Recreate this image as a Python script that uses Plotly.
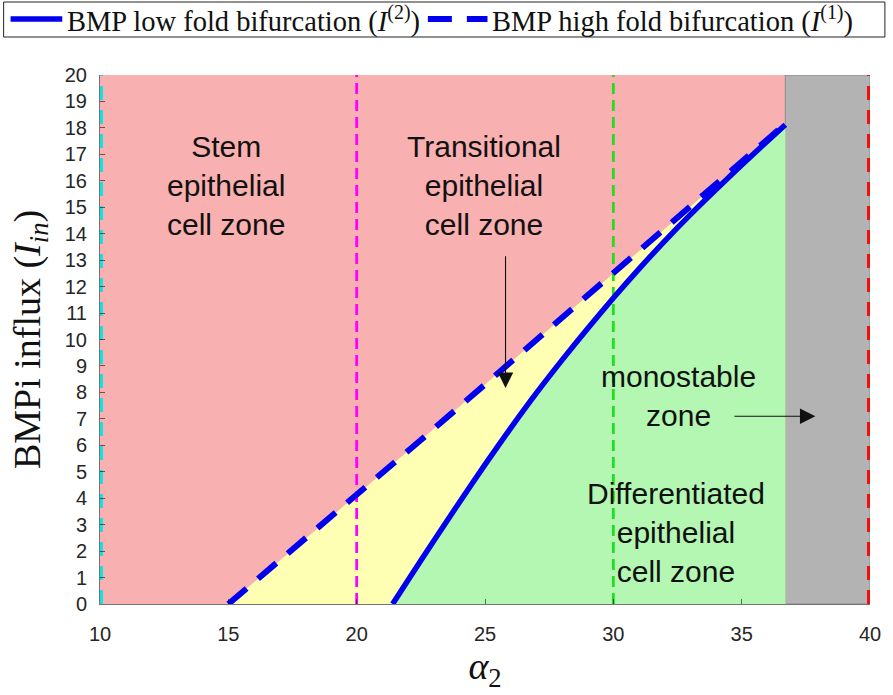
import plotly.graph_objects as go

# BMP high fold bifurcation curve I^(1) (dashed)
alpha_high = [15, 17.5, 20, 22.5, 25, 27.5, 30, 32.5, 35, 36.7]
I_high = [0, 2.05, 4.12, 6.2, 8.3, 10.4, 12.5, 14.6, 16.7, 18.15]

# BMP low fold bifurcation curve I^(2) (solid)
alpha_low = [21.4, 22, 23, 24, 25, 26, 27, 28, 29, 30, 31, 32, 33, 34, 35, 36, 36.7]
I_low = [0, 0.9, 2.38, 3.84, 5.27, 6.65, 7.97, 9.22, 10.42, 11.57, 12.67, 13.72,
         14.72, 15.67, 16.6, 17.5, 18.12]

# reference alpha_2 values marked by vertical dashed lines
marker_alpha = [10, 20, 30, 40]
marker_colors = ["#18e0e0", "#ff00ff", "#22dd22", "#ee1111"]

legend_labels = ["BMP low fold bifurcation (<i>I</i><sup>(2)</sup>)",
                 "BMP high fold bifurcation (<i>I</i><sup>(1)</sup>)"]

x_range = [10, 40]
y_range = [0, 20]
x_ticks = [10, 15, 20, 25, 30, 35, 40]
y_ticks = list(range(0, 21))

PINK = "#f9b0b0"
YELLOW = "#ffffb3"
GREEN = "#b3f7b3"
GRAY = "#b3b3b3"
BLUE = "#0000ee"
SANS = "Liberation Sans, Arial, sans-serif"
SERIF = "Liberation Serif, Times New Roman, serif"

W, H = 893, 695
M = dict(l=100, r=18, t=75, b=91)
PW = W - M["l"] - M["r"]
PH = H - M["t"] - M["b"]


def px_x(p):
    """pixel column -> paper x"""
    return (p - M["l"]) / PW


def px_y(p):
    """pixel row (from top) -> paper y"""
    return (H - M["b"] - p) / PH


fold_end = alpha_low[-1]

fig = go.Figure()

# bistable (transitional) region between the two fold curves
fig.add_trace(go.Scatter(
    x=alpha_high + [alpha_high[-1]], y=I_high + [0],
    fill="toself", fillcolor=YELLOW, mode="none",
    showlegend=False, hoverinfo="skip"))
# differentiated region below the low fold curve
fig.add_trace(go.Scatter(
    x=alpha_low + [alpha_low[-1]], y=I_low + [0],
    fill="toself", fillcolor=GREEN, mode="none",
    showlegend=False, hoverinfo="skip"))

# vertical reference lines (the ones on the frame edges are half clipped)
for a, c in zip(marker_alpha, marker_colors):
    edge = a in (x_range[0], x_range[1])
    fig.add_trace(go.Scatter(
        x=[a, a], y=y_range, mode="lines",
        line=dict(color=c, width=6 if edge else 2.8,
                  dash="14px,10px" if edge else "11px,6px"),
        showlegend=False, hoverinfo="skip"))

solid_style = dict(color=BLUE, width=5.5)
dash_style = dict(color=BLUE, width=6, dash="24px,15px")

fig.add_trace(go.Scatter(x=alpha_low, y=I_low, mode="lines",
                         line=dict(solid_style, shape="spline", smoothing=0.6),
                         name=legend_labels[0], showlegend=False))
fig.add_trace(go.Scatter(x=alpha_high, y=I_high, mode="lines", line=dash_style,
                         name=legend_labels[1], showlegend=False))

shapes = [
    # stem region background (above the high fold curve)
    dict(type="rect", xref="x", yref="y", x0=x_range[0], x1=fold_end,
         y0=y_range[0], y1=y_range[1], fillcolor=PINK, line=dict(width=0),
         layer="below"),
    # monostable region
    dict(type="rect", xref="x", yref="y", x0=fold_end, x1=x_range[1],
         y0=y_range[0], y1=y_range[1], fillcolor=GRAY,
         line=dict(width=1, color="#8a8a8a"), layer="below"),
    # legend frame and line samples
    dict(type="rect", xref="paper", yref="paper",
         x0=px_x(3), x1=px_x(890), y0=px_y(37), y1=px_y(2),
         fillcolor="white", line=dict(color="#222222", width=1)),
    dict(type="line", xref="paper", yref="paper",
         x0=px_x(10), x1=px_x(62), y0=px_y(19), y1=px_y(19), line=solid_style),
    dict(type="line", xref="paper", yref="paper",
         x0=px_x(430), x1=px_x(490), y0=px_y(19), y1=px_y(19), line=dash_style),
]

txt = dict(family=SANS, size=30, color="#111111")
annotations = [
    dict(x=14.92, y=15.84, text="Stem<br>epithelial<br>cell zone"),
    dict(x=24.97, y=15.84, text="Transitional<br>epithelial<br>cell zone"),
    dict(x=32.55, y=7.86, text="monostable<br>zone"),
    dict(x=32.45, y=2.72, text="Differentiated<br>epithelial<br>cell zone"),
]
for a in annotations:
    a.update(xref="x", yref="y", showarrow=False, font=txt, align="center")

# arrows pointing into the transitional and monostable zones
annotations += [
    dict(x=25.8, y=8.17, ax=25.8, ay=13.2, xref="x", yref="y", axref="x", ayref="y",
         text="", showarrow=True, arrowhead=2, arrowsize=2.8, arrowwidth=1.1,
         arrowcolor="#111111"),
    dict(x=37.87, y=7.1, ax=34.66, ay=7.1, xref="x", yref="y", axref="x", ayref="y",
         text="", showarrow=True, arrowhead=2, arrowsize=2.8, arrowwidth=1.1,
         arrowcolor="#111111"),
]

# legend entries
leg_font = dict(family=SERIF, size=28.5, color="#111111")
annotations += [
    dict(x=px_x(65), y=px_y(19), text=legend_labels[0]),
    dict(x=px_x(493), y=px_y(19), text=legend_labels[1]),
]
for a in annotations[-2:]:
    a.update(xref="paper", yref="paper", xanchor="left", yanchor="middle",
             showarrow=False, font=leg_font)

axis_line = "rgba(0,0,0,0.55)"
fig.update_layout(
    width=W, height=H, margin=M,
    paper_bgcolor="white", plot_bgcolor="white",
    shapes=shapes, annotations=annotations,
    showlegend=False,
    xaxis=dict(
        range=x_range, tickvals=x_ticks, showgrid=False, zeroline=False,
        showline=True, linecolor=axis_line, linewidth=1, mirror=False,
        ticks="inside", ticklen=5, tickcolor=axis_line,
        tickfont=dict(family=SANS, size=20, color="#262626"),
        ticklabelstandoff=12,
        title=dict(text="<i>α</i><sub>2</sub>", font=dict(family=SERIF, size=38, color="#111111"),
                   standoff=6)),
    yaxis=dict(
        range=y_range, tickvals=y_ticks, showgrid=False, zeroline=False,
        showline=True, linecolor=axis_line, linewidth=1, mirror=False,
        ticks="inside", ticklen=5, tickcolor=axis_line,
        tickfont=dict(family=SANS, size=20, color="#262626"),
        ticklabelstandoff=8,
        title=dict(text="BMPi influx (<i>I<sub>in</sub></i>)",
                   font=dict(family=SERIF, size=38, color="#111111"), standoff=12)),
)

fig.write_html("out.html")
